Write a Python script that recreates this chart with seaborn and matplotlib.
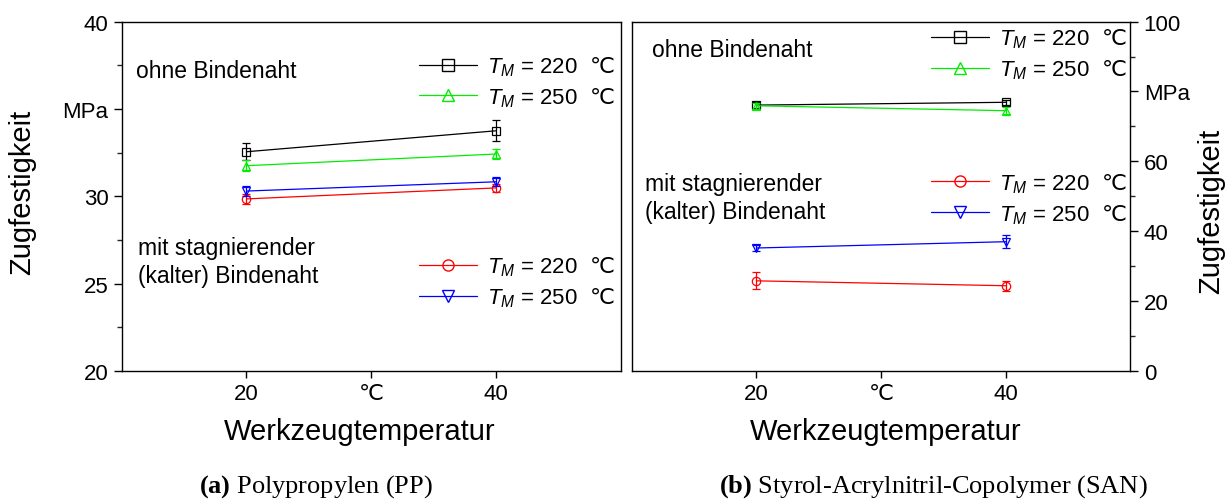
import numpy as np
import pandas as pd
import matplotlib
matplotlib.use("Agg")
import matplotlib.pyplot as plt
import seaborn as sns
from matplotlib.lines import Line2D

# Werkzeugtemperatur in °C
temps = [20, 40]

# (a) Polypropylen, Zugfestigkeit in MPa
pp_ohne_220 = [32.55, 33.75]
pp_ohne_220_err = [0.5, 0.6]
pp_ohne_250 = [31.75, 32.42]
pp_ohne_250_err = [0.3, 0.3]
pp_mit_220 = [29.85, 30.48]
pp_mit_220_err = [0.3, 0.25]
pp_mit_250 = [30.3, 30.83]
pp_mit_250_err = [0.3, 0.25]

# (b) SAN, Zugfestigkeit in MPa
san_ohne_220 = [76.1, 76.9]
san_ohne_220_err = [0.8, 0.8]
san_ohne_250 = [75.9, 74.5]
san_ohne_250_err = [0.8, 1.0]
san_mit_220 = [25.8, 24.4]
san_mit_220_err = [2.4, 1.4]
san_mit_250 = [35.2, 37.0]
san_mit_250_err = [1.0, 1.9]

# ℃ im Mathe-Modus, damit es aus DejaVu Sans kommt
series_labels = [r"$T_M$ = 220  $\mathrm{℃}$", r"$T_M$ = 250  $\mathrm{℃}$",
                 r"$T_M$ = 220  $\mathrm{℃}$", r"$T_M$ = 250  $\mathrm{℃}$"]
series_colors = ["#000000", "#00ee00", "#ff0000", "#0000ff"]
series_markers = ["s", "^", "o", "v"]

x_ticks = [20, 30, 40]
x_ticklabels = ["20", "℃", "40"]
pp_yticks = [20, 25, 30, 35, 40]
pp_yticklabels = ["20", "25", "30", "MPa", "40"]
san_yticks = [0, 20, 40, 60, 80, 100]
san_yticklabels = ["0", "20", "40", "60", "MPa", "100"]

sns.set_style("ticks")
plt.rcParams["font.family"] = ["Liberation Sans", "DejaVu Sans"]
plt.rcParams["mathtext.fontset"] = "custom"
plt.rcParams["mathtext.rm"] = "DejaVu Sans"
plt.rcParams["mathtext.it"] = "Liberation Sans:italic"
plt.rcParams["mathtext.bf"] = "Liberation Serif:bold"
plt.rcParams["axes.linewidth"] = 1.0
plt.rcParams["axes.edgecolor"] = "black"
plt.rcParams["text.color"] = "black"
plt.rcParams["axes.labelcolor"] = "black"

fig = plt.figure(figsize=(12.3, 5.02), dpi=100)
ax1 = fig.add_axes([0.0989, 0.259, 0.406, 0.696])
ax2 = fig.add_axes([0.5136, 0.259, 0.4055, 0.696])


def draw_panel(ax, values, errs):
    for i in range(4):
        df = pd.DataFrame({"temp": temps, "wert": values[i]})
        sns.lineplot(data=df, x="temp", y="wert", ax=ax, color=series_colors[i],
                     marker=series_markers[i], markersize=6, markerfacecolor="none",
                     markeredgecolor=series_colors[i], markeredgewidth=0.9,
                     linewidth=0.9, legend=False)
        ax.errorbar(temps, values[i], yerr=errs[i], fmt="none", ecolor=series_colors[i],
                    elinewidth=0.9, capsize=3, capthick=0.9)


def add_legends(ax, pos_top, pos_bottom):
    for k, pos in enumerate([pos_top, pos_bottom]):
        handles = []
        for i in (2 * k, 2 * k + 1):
            handles.append(Line2D([], [], color=series_colors[i], marker=series_markers[i],
                                  markersize=8, markerfacecolor="none",
                                  markeredgecolor=series_colors[i], linewidth=0.9))
        leg = ax.legend(handles, series_labels[2 * k:2 * k + 2], loc="center left",
                        bbox_to_anchor=pos, frameon=False, fontsize=16,
                        borderpad=0, borderaxespad=0, handlelength=2.6,
                        handletextpad=0.45, labelspacing=0.32)
        if k == 0:
            ax.add_artist(leg)


def style_axes(ax, yticks, yticklabels, ylim, right=False):
    ax.set_xlim(10, 50)
    ax.set_ylim(*ylim)
    ax.set_xticks(x_ticks)
    ax.set_xticklabels(x_ticklabels)
    ax.set_yticks(yticks)
    ax.set_yticklabels(yticklabels)
    step = yticks[1] - yticks[0]
    ax.set_yticks(np.array(yticks[:-1]) + step / 2, minor=True)
    ax.set_xlabel("")
    ax.set_ylabel("")
    if right:
        ax.yaxis.tick_right()
    for s in ax.spines.values():
        s.set_visible(True)
        s.set_linewidth(1.0)
    ax.tick_params(axis="both", which="major", direction="out", length=6, width=1.0,
                   labelsize=16, colors="black")
    ax.tick_params(axis="y", which="minor", direction="out", length=3.5, width=1.0)
    ax.tick_params(axis="x", which="major", length=5)


draw_panel(ax1, [pp_ohne_220, pp_ohne_250, pp_mit_220, pp_mit_250],
           [pp_ohne_220_err, pp_ohne_250_err, pp_mit_220_err, pp_mit_250_err])
draw_panel(ax2, [san_ohne_220, san_ohne_250, san_mit_220, san_mit_250],
           [san_ohne_220_err, san_ohne_250_err, san_mit_220_err, san_mit_250_err])

style_axes(ax1, pp_yticks, pp_yticklabels, (20, 40))
style_axes(ax2, san_yticks, san_yticklabels, (0, 100), right=True)

add_legends(ax1, (0.595, 0.828), (0.595, 0.255))
add_legends(ax2, (0.600, 0.908), (0.600, 0.494))

# Beschriftungen im Diagramm
ax1.text(0.029, 0.860, "ohne Bindenaht", transform=ax1.transAxes, fontsize=16.5, va="center")
ax1.text(0.033, 0.313, "mit stagnierender\n(kalter) Bindenaht", transform=ax1.transAxes,
         fontsize=16.5, va="center", linespacing=1.25)
ax2.text(0.040, 0.919, "ohne Bindenaht", transform=ax2.transAxes, fontsize=16.5, va="center")
ax2.text(0.026, 0.496, "mit stagnierender\n(kalter) Bindenaht", transform=ax2.transAxes,
         fontsize=16.5, va="center", linespacing=1.25)

# Achsentitel
fig.text(0.0183, 0.6175, "Zugfestigkeit", rotation=90, fontsize=21, ha="center", va="center")
fig.text(0.985, 0.578, "Zugfestigkeit", rotation=90, fontsize=21, ha="center", va="center")
fig.text(0.2927, 0.139, "Werkzeugtemperatur", fontsize=21, ha="center", va="center")
fig.text(0.720, 0.139, "Werkzeugtemperatur", fontsize=21, ha="center", va="center")

# Unterschriften
fig.text(0.257, 0.030, r"$\mathbf{(a)}$ Polypropylen (PP)", family="Liberation Serif",
         fontsize=19, ha="center", va="center")
fig.text(0.759, 0.030, r"$\mathbf{(b)}$ Styrol-Acrylnitril-Copolymer (SAN)",
         family="Liberation Serif", fontsize=19, ha="center", va="center")

fig.savefig("out.png", dpi=100)
